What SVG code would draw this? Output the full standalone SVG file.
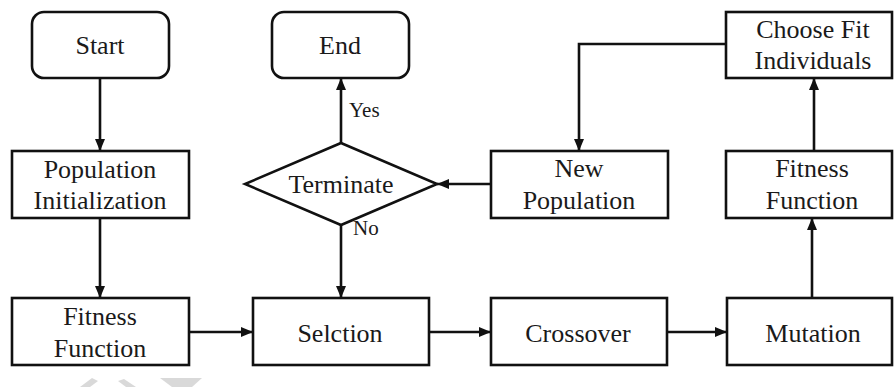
<svg xmlns="http://www.w3.org/2000/svg" width="894" height="387" viewBox="0 0 894 387">
  <style>
    .box { fill: #fff; stroke: #111; stroke-width: 2.6; }
    .lbl { font-family: "Liberation Serif", "DejaVu Serif", "Times New Roman", serif; font-size: 26px; fill: #1a1a1a; text-anchor: middle; }
    .small { font-family: "Liberation Serif", "DejaVu Serif", "Times New Roman", serif; font-size: 21px; fill: #1a1a1a; }
    .wire { fill: none; stroke: #111; stroke-width: 2.6; }
    .mark { fill: #d9d9d9; }
  </style>
  <defs>
    <marker id="arrow" viewBox="0 0 12 10" refX="12" refY="5" markerWidth="12" markerHeight="10" markerUnits="userSpaceOnUse" orient="auto">
      <path d="M0,0 L12,5 L0,10 Z" fill="#111"/>
    </marker>
  </defs>

  <rect width="894" height="387" fill="#fff"/>

  <!-- faint mark along the lower edge -->
  <g id="edge-mark">
    <polygon class="mark" points="80,387 92,378 98,381 90,387"/>
    <polygon class="mark" points="118,381 124,379 136,387 126,387"/>
    <polygon class="mark" points="160,378 202,378 192,387 172,387"/>
  </g>

  <g id="connectors">
    <line class="wire" x1="100" y1="78" x2="100" y2="151" marker-end="url(#arrow)"/>
    <line class="wire" x1="100" y1="218" x2="100" y2="298" marker-end="url(#arrow)"/>
    <line class="wire" x1="189" y1="332" x2="253" y2="332" marker-end="url(#arrow)"/>
    <line class="wire" x1="429" y1="332" x2="491" y2="332" marker-end="url(#arrow)"/>
    <line class="wire" x1="667" y1="332" x2="727" y2="332" marker-end="url(#arrow)"/>
    <line class="wire" x1="812" y1="298" x2="812" y2="218" marker-end="url(#arrow)"/>
    <line class="wire" x1="814" y1="151" x2="814" y2="78" marker-end="url(#arrow)"/>
    <polyline class="wire" points="726,44 579,44 579,151" marker-end="url(#arrow)"/>
    <line class="wire" x1="491" y1="184" x2="437" y2="184" marker-end="url(#arrow)"/>
    <line class="wire" x1="341" y1="143" x2="341" y2="78" marker-end="url(#arrow)"/>
    <line class="wire" x1="341" y1="225" x2="341" y2="298" marker-end="url(#arrow)"/>
    <text class="small" x="349" y="117">Yes</text>
    <text class="small" x="353" y="235">No</text>
  </g>

  <g id="start">
    <rect class="box" x="32" y="12" width="137" height="66" rx="12"/>
    <text class="lbl" x="100" y="54">Start</text>
  </g>

  <g id="end">
    <rect class="box" x="272" y="12" width="137" height="66" rx="12"/>
    <text class="lbl" x="340" y="54">End</text>
  </g>

  <g id="choose-fit">
    <rect class="box" x="726" y="12" width="166" height="66"/>
    <text class="lbl" x="813" y="38">Choose Fit</text>
    <text class="lbl" x="813" y="69">Individuals</text>
  </g>

  <g id="population-init">
    <rect class="box" x="12" y="151" width="177" height="67"/>
    <text class="lbl" x="100" y="178">Population</text>
    <text class="lbl" x="100" y="209">Initialization</text>
  </g>

  <g id="terminate">
    <polygon class="box" points="341,143 437,184 341,225 245,184"/>
    <text class="lbl" x="341" y="193">Terminate</text>
  </g>

  <g id="new-population">
    <rect class="box" x="491" y="151" width="177" height="67"/>
    <text class="lbl" x="579" y="177">New</text>
    <text class="lbl" x="579" y="209">Population</text>
  </g>

  <g id="fitness-right">
    <rect class="box" x="726" y="151" width="166" height="67"/>
    <text class="lbl" x="812" y="177">Fitness</text>
    <text class="lbl" x="812" y="209">Function</text>
  </g>

  <g id="fitness-left">
    <rect class="box" x="12" y="298" width="177" height="67"/>
    <text class="lbl" x="100" y="325">Fitness</text>
    <text class="lbl" x="100" y="357">Function</text>
  </g>

  <g id="selection">
    <rect class="box" x="253" y="298" width="176" height="67"/>
    <text class="lbl" x="340" y="342">Selction</text>
  </g>

  <g id="crossover">
    <rect class="box" x="491" y="298" width="176" height="67"/>
    <text class="lbl" x="578" y="342">Crossover</text>
  </g>

  <g id="mutation">
    <rect class="box" x="727" y="298" width="165" height="67"/>
    <text class="lbl" x="813" y="342">Mutation</text>
  </g>
</svg>
